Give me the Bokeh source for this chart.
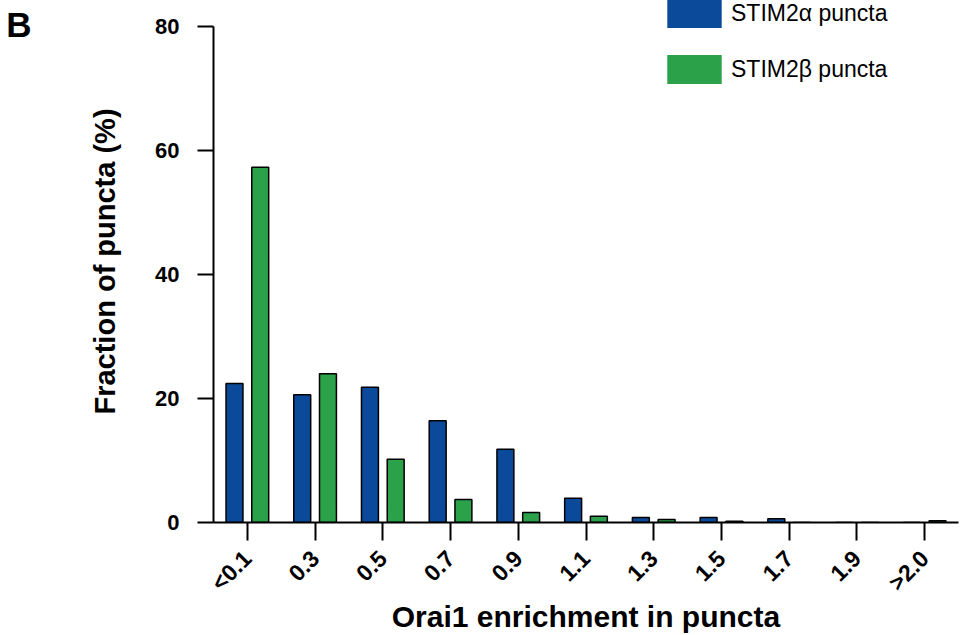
from bokeh.plotting import figure
from bokeh.models import (FactorRange, Range1d, Legend, LegendItem, FixedTicker,
                          LinearAxis, ColumnDataSource)
from bokeh.transform import dodge
from bokeh.embed import file_html
from bokeh.resources import INLINE

categories = ["<0.1", "0.3", "0.5", "0.7", "0.9", "1.1", "1.3", "1.5", "1.7", "1.9", ">2.0"]
stim2a = [22.4, 20.6, 21.8, 16.4, 11.8, 3.9, 0.8, 0.8, 0.6, 0.0, 0.0]
stim2b = [57.3, 24.0, 10.2, 3.7, 1.6, 1.0, 0.5, 0.2, 0.0, 0.0, 0.3]
y_ticks = [0, 20, 40, 60, 80]

BLUE = "#0B4A9B"
GREEN = "#2BA149"
FONT = "Liberation Sans"

FRAME_H = 522          # frame reaches canvas top; axis line stops at 80
Y_MAX = 80
Y_TOP = Y_MAX * FRAME_H / (FRAME_H - 26)
PANEL_Y = 80.3         # vertical position of the panel letter

src = ColumnDataSource(dict(cat=categories, a=stim2a, b=stim2b))

p = figure(x_range=FactorRange(factors=categories, range_padding=0),
           y_range=Range1d(0, Y_TOP),
           frame_width=745, frame_height=FRAME_H,
           min_border_left=213, min_border_top=0, min_border_right=4, min_border_bottom=0,
           output_backend="svg", toolbar_location=None)

p.vbar(x=dodge("cat", -0.19, range=p.x_range), top="a", width=0.25, source=src,
       fill_color=BLUE, line_color="black", line_width=1.5)
p.vbar(x=dodge("cat", 0.19, range=p.x_range), top="b", width=0.25, source=src,
       fill_color=GREEN, line_color="black", line_width=1.5)

# legend swatches (no outline); zero-height bars are invisible in the plot
la = p.vbar(x=[categories[0]], top=[0], width=0.25, fill_color=BLUE, line_color=None)
lb = p.vbar(x=[categories[0]], top=[0], width=0.25, fill_color=GREEN, line_color=None)
legend = Legend(items=[LegendItem(label="STIM2α puncta", renderers=[la]),
                       LegendItem(label="STIM2β puncta", renderers=[lb])],
                location=(447, 435), padding=0, margin=0, spacing=20,
                glyph_width=68, glyph_height=36, label_height=36, label_standoff=3,
                border_line_color=None, background_fill_alpha=0,
                label_text_font=FONT, label_text_font_size="23px", label_text_color="black")
p.add_layout(legend, "center")

p.xgrid.visible = False
p.ygrid.visible = False
p.outline_line_color = None

xa = p.xaxis[0]
xa.axis_label = "Orai1 enrichment in puncta"
xa.axis_label_text_font = FONT
xa.axis_label_text_font_size = "30px"
xa.axis_label_text_font_style = "bold"
xa.axis_label_text_color = "black"
xa.axis_label_standoff = -8
xa.major_label_orientation = 0.785398
xa.major_label_text_font = FONT
xa.major_label_text_font_size = "23px"
xa.major_label_text_font_style = "bold"
xa.major_label_text_color = "black"
xa.major_label_standoff = 14
xa.major_tick_out = 18
xa.major_tick_in = 0
xa.axis_line_width = 2
xa.major_tick_line_width = 2
xa.axis_line_color = "black"
xa.major_tick_line_color = "black"

ya = p.yaxis[0]
ya.ticker = FixedTicker(ticks=y_ticks)
ya.bounds = (0, Y_MAX)
ya.axis_label = "Fraction of puncta (%)"
ya.axis_label_text_font = FONT
ya.axis_label_text_font_size = "29px"
ya.axis_label_text_font_style = "bold"
ya.axis_label_text_color = "black"
ya.axis_label_standoff = 31
ya.major_label_text_font = FONT
ya.major_label_text_font_size = "22px"
ya.major_label_text_font_style = "bold"
ya.major_label_text_color = "black"
ya.major_label_standoff = 18
ya.major_tick_out = 16
ya.major_tick_in = 0
ya.minor_tick_line_color = None
ya.axis_line_width = 2
ya.major_tick_line_width = 2
ya.axis_line_color = "black"
ya.major_tick_line_color = "black"

# panel letter "B" as an outer, line-less axis label
pa = LinearAxis(ticker=FixedTicker(ticks=[PANEL_Y]), major_label_overrides={PANEL_Y: "B"},
                axis_line_color=None, major_tick_line_color=None, minor_tick_line_color=None,
                major_tick_out=0, major_tick_in=0, major_label_standoff=55,
                major_label_text_font=FONT, major_label_text_font_size="35px",
                major_label_text_font_style="bold", major_label_text_color="black")
p.add_layout(pa, "left")

open("out.html", "w").write(file_html(p, INLINE))
